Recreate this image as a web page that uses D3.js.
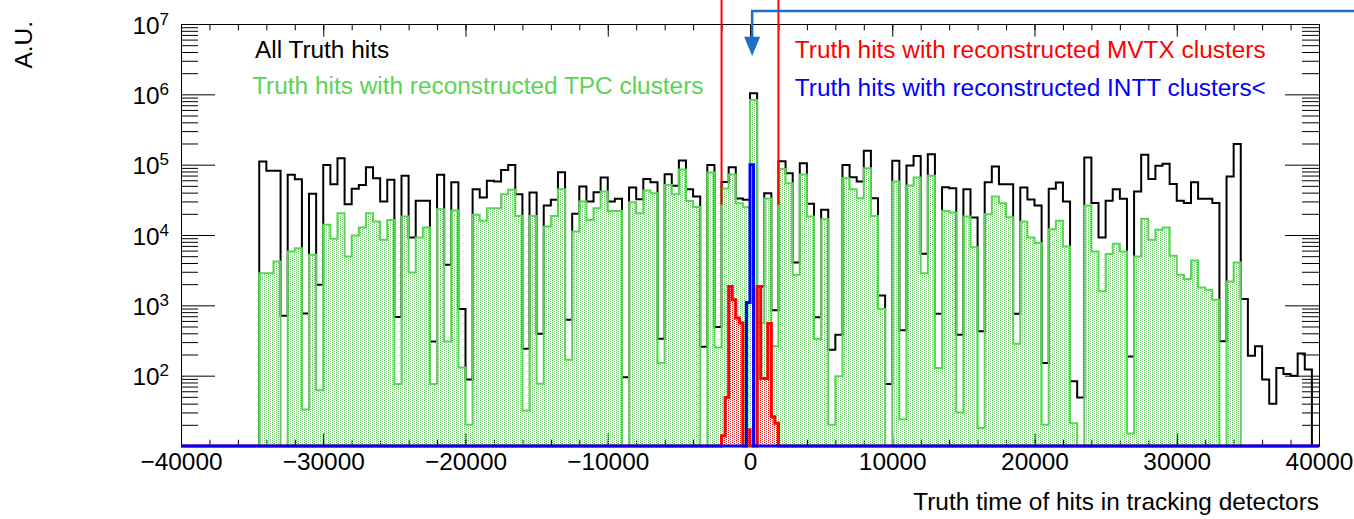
<!DOCTYPE html>
<html>
<head>
<meta charset="utf-8">
<script src="https://cdn.jsdelivr.net/npm/d3@7"></script>
<style>
  html, body { margin: 0; padding: 0; background: #fff; }
  svg { display: block; font-family: "Liberation Sans", Arial, Helvetica, sans-serif; }
</style>
</head>
<body>
<svg id="chart" width="1354" height="519"></svg>
<script>
// coarse binning shared by the "all" and TPC histograms: 160 bins of 500
const xLow = -40000, xHigh = 40000, binWidth = 500

const allHits = [
    0, 0, 0, 0, 0, 0, 0, 0, 0, 0,
    0, 111000, 81700, 81700, 711, 71600, 62100, 767, 38500, 1960,
    99300, 52700, 123600, 27400, 45300, 51600, 92000, 64300, 29900, 60800,
    681, 69300, 9230, 30600, 30600, 307, 71600, 3770, 56400, 885,
    88, 44800, 34100, 58900, 57500, 84300, 99300, 38000, 242, 40200,
    394, 26200, 31600, 78200, 624, 20000, 48900, 29900, 40600, 65600,
    29900, 32700, 95, 47300, 32300, 62800, 56400, 335, 73100, 50100,
    115000, 44900, 35200, 257, 99300, 490, 56900, 91600, 33100, 31600,
    1038000, 1860, 39300, 851, 112000, 75700, 4070, 105000, 27900, 676,
    22800, 234, 382, 99300, 66400, 57500, 158000, 33300, 1380, 76,
    114000, 441, 97000, 133000, 5410, 141000, 759, 47900, 46200, 382,
    44800, 17700, 427, 56400, 94000, 52700, 52700, 759, 47300, 32000,
    26300, 151, 45300, 55700, 29900, 83, 49, 126000, 28400, 9230,
    30600, 44900, 32700, 188, 41500, 138000, 62800, 96200, 103000, 53300,
    30600, 28400, 56400, 32700, 32700, 28400, 308, 67800, 197000, 1230,
    192, 261, 88, 40, 129, 106, 100, 206, 122, 0
]

const tpcHits = [
    0, 0, 0, 0, 0, 0, 0, 0, 0, 0,
    0, 2870, 2870, 4210, 0, 5830, 6500, 33, 5240, 62,
    14000, 8830, 20400, 4950, 9840, 12800, 20400, 15600, 8550, 16400,
    76, 18300, 2940, 9230, 12800, 76, 23300, 307, 22300, 131,
    20, 19400, 15900, 24000, 24000, 38000, 43900, 18700, 32, 18700,
    77, 13200, 18700, 44800, 169, 11200, 29900, 16400, 24000, 41500,
    22000, 22000, 0, 29300, 20400, 42900, 39300, 151, 51600, 38000,
    85100, 30500, 25100, 0, 77600, 251, 45700, 72400, 28200, 24900,
    832000, 562, 33100, 261, 87100, 54600, 2720, 72400, 18300, 331,
    16800, 20, 98, 64100, 44800, 33300, 89100, 18700, 885, 0,
    57500, 24, 50500, 65600, 2870, 69300, 129, 22000, 20900, 30,
    18300, 6710, 18, 19800, 35200, 28200, 17900, 284, 15500, 9230,
    7670, 20, 12100, 15900, 6870, 21, 0, 26300, 5830, 1580,
    5350, 7500, 5830, 15, 4950, 17000, 8550, 11900, 12800, 5060,
    2720, 2360, 4350, 1800, 1670, 1200, 0, 2190, 4070, 0,
    0, 0, 0, 0, 0, 0, 0, 0, 0, 0
]

// silicon histograms use finer bins of 250; only the non-empty stretch is listed
const fineWidth = 250
const mvtxStart = -2000
const mvtxHits = [14, 49, 1860, 1200, 660, 560, 0, 17, 0, 0, 1860, 91, 91, 550, 26, 21]
const inttStart = -250
const inttHits = [1100, 100000]

const xTickValues = [-40000, -30000, -20000, -10000, 0, 10000, 20000, 30000, 40000]
const yDecades = [2, 3, 4, 5, 6, 7]
const cutTimes = [-2000, 2000]

const legend = [
    {text: "All Truth hits", color: "#000000", x: -34800, y: 3.3e6},
    {text: "Truth hits with reconstructed TPC clusters", color: "#59d454", x: -35000, y: 1.0e6},
    {text: "Truth hits with reconstructed MVTX clusters", color: "#ff0000", x: 3150, y: 3.3e6},
    {text: "Truth hits with reconstructed INTT clusters<", color: "#0000ff", x: 3150, y: 9.4e5}
]

const svg = d3.select("#chart")
const margin = {left: 181, right: 1319, top: 24, bottom: 446}

const x = d3.scaleLinear().domain([xLow, xHigh]).range([margin.left, margin.right])
const y = d3.scaleLog().domain([10, 1e7]).range([margin.bottom, margin.top])
const yc = v => y(Math.max(v, 10))

// expand a list of bin contents into step points over the full x range
function steps(counts, start, width) {
    const pts = []
    const nFine = Math.round((xHigh - xLow) / width)
    for (let i = 0; i < nFine; i++) {
        const lo = xLow + i * width
        const k = Math.round((lo - start) / width)
        const v = k >= 0 && k < counts.length ? counts[k] : 0
        pts.push([lo, v], [lo + width, v])
    }
    return pts
}

const line = d3.line().x(d => x(d[0])).y(d => yc(d[1]))
const area = d3.area().x(d => x(d[0])).y0(margin.bottom).y1(d => yc(d[1]))

// stipple patterns used for the filled histograms
const defs = svg.append("defs")
function stipple(id, color) {
    const p = defs.append("pattern")
        .attr("id", id)
        .attr("width", 4).attr("height", 4)
        .attr("patternUnits", "userSpaceOnUse")
    ;[[0, 0], [2, 1], [0, 2], [2, 3]].forEach(([px, py]) => {
        p.append("rect").attr("x", px).attr("y", py)
            .attr("width", 1).attr("height", 1).attr("fill", color)
    })
}
stipple("dotsGreen", "#59d454")
stipple("dotsRed", "#ff0000")

const allPts = steps(allHits, xLow, binWidth)
const tpcPts = steps(tpcHits, xLow, binWidth)
const mvtxPts = steps(mvtxHits, mvtxStart, fineWidth)
const inttPts = steps(inttHits, inttStart, fineWidth)

// all truth hits first, then the axes, then the subsets on top
svg.append("path")
    .attr("d", line(allPts))
    .attr("fill", "none").attr("stroke", "#000").attr("stroke-width", 2)

// frame and axes
const xMinor = d3.range(xLow, xHigh + 1, 2000)
const axisLayers = [
    d3.axisBottom(x).tickValues(xTickValues).tickSize(-12.7).tickPadding(6).tickFormat(d3.format("d")),
    d3.axisBottom(x).tickValues(xMinor).tickSize(-6.3).tickFormat(""),
]
axisLayers.forEach(ax => {
    svg.append("g").attr("class", "x axis")
        .attr("transform", `translate(0,${margin.bottom})`)
        .call(ax.tickSizeOuter(0))
})
svg.append("g").attr("transform", `translate(0,${margin.top})`)
    .call(d3.axisTop(x).tickValues(xTickValues).tickSize(-12.7).tickSizeOuter(0).tickFormat(""))
svg.append("g").attr("transform", `translate(0,${margin.top})`)
    .call(d3.axisTop(x).tickValues(xMinor).tickSize(-6.3).tickSizeOuter(0).tickFormat(""))

const yMajor = [1, ...yDecades].map(n => Math.pow(10, n)).filter(v => v >= 10)
const yMinor = []
for (let n = 1; n < 7; n++) for (let m = 2; m <= 9; m++) yMinor.push(m * Math.pow(10, n))

;[["left", margin.left], ["right", margin.right]].forEach(([side, pos]) => {
    const make = side === "left" ? d3.axisLeft : d3.axisRight
    svg.append("g").attr("transform", `translate(${pos},0)`)
        .call(make(y).tickValues(yMajor).tickSize(-34).tickSizeOuter(0).tickFormat(""))
    svg.append("g").attr("transform", `translate(${pos},0)`)
        .call(make(y).tickValues(yMinor).tickSize(-17).tickSizeOuter(0).tickFormat(""))
})

svg.selectAll(".domain").attr("stroke", "#000")
svg.selectAll(".tick line").attr("stroke", "#000")
svg.selectAll(".x.axis text")
    .attr("font-family", "Liberation Sans, Arial, sans-serif")
    .attr("font-size", 24.4)
    .attr("fill", "#000")
    .attr("dy", "0.72em")

// log labels written as 10 with the exponent raised
const yLabels = svg.append("g")
    .attr("font-size", 24.4)
    .attr("text-anchor", "end")
yDecades.forEach(n => {
    const t = yLabels.append("text")
        .attr("x", margin.left - 12)
        .attr("y", y(Math.pow(10, n)) + 9.5)
    t.append("tspan").text("10")
    t.append("tspan").attr("dy", -9).attr("font-size", 17).text(n)
})

// TPC subset
svg.append("path").attr("d", area(tpcPts)).attr("fill", "url(#dotsGreen)")
svg.append("path")
    .attr("d", line(tpcPts))
    .attr("fill", "none").attr("stroke", "#59d454").attr("stroke-width", 2)

// MVTX subset
svg.append("path").attr("d", area(mvtxPts)).attr("fill", "url(#dotsRed)")
svg.append("path")
    .attr("d", line(mvtxPts))
    .attr("fill", "none").attr("stroke", "#ff0000").attr("stroke-width", 3)

// INTT subset
svg.append("path")
    .attr("d", line(inttPts))
    .attr("fill", "none").attr("stroke", "#0000ff").attr("stroke-width", 3)

// time window markers
svg.append("g").selectAll("line")
    .data(cutTimes)
    .join("line")
    .attr("x1", d => x(d)).attr("x2", d => x(d))
    .attr("y1", y(2.7e4)).attr("y2", y(3e7))
    .attr("stroke", "#ff0000").attr("stroke-width", 2)

// arrow pointing at the in-time bin
const arrowX = x(150)
svg.append("path")
    .attr("d", `M1354,${y(1.53e7)} H${arrowX} V${y(6.3e6)}`)
    .attr("fill", "none").attr("stroke", "#1c6fc8").attr("stroke-width", 2.5)
svg.append("path")
    .attr("d", `M${arrowX - 8},${y(6.6e6)} L${arrowX + 8},${y(6.6e6)} L${arrowX},${y(3.5e6)} Z`)
    .attr("fill", "#1c6fc8")

// legend entries
svg.append("g").attr("font-size", 24.4)
    .selectAll("text")
    .data(legend)
    .join("text")
    .attr("x", d => x(d.x)).attr("y", d => y(d.y))
    .attr("fill", d => d.color)
    .text(d => d.text)

// axis titles
svg.append("text")
    .attr("font-size", 24.4)
    .attr("text-anchor", "end")
    .attr("x", margin.right).attr("y", 510)
    .text("Truth time of hits in tracking detectors")
svg.append("text")
    .attr("font-size", 24.4)
    .attr("text-anchor", "end")
    .attr("transform", "translate(31.5,21) rotate(-90)")
    .text("A.U.")
</script>
</body>
</html>
